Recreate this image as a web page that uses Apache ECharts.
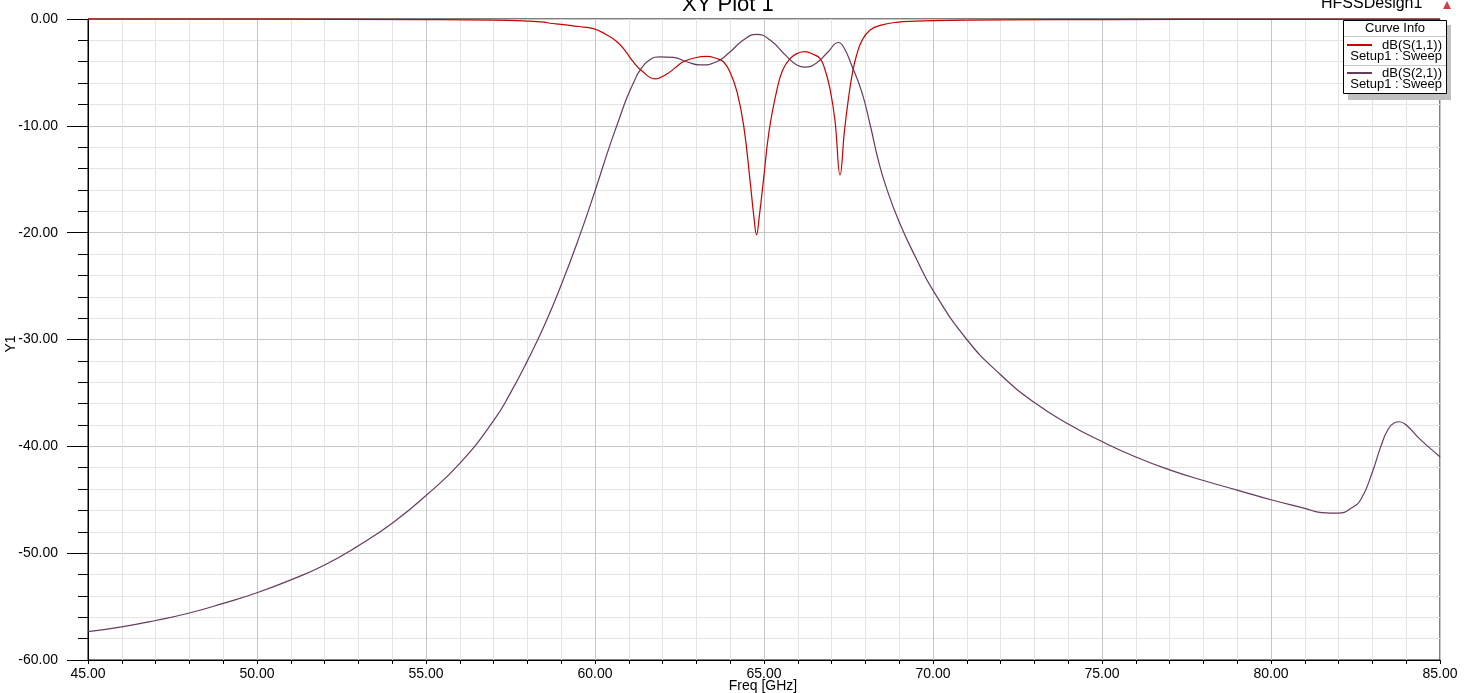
<!DOCTYPE html>
<html>
<head>
<meta charset="utf-8">
<script src="https://cdn.jsdelivr.net/npm/echarts@6/dist/echarts.min.js"></script>
<style>
html,body{margin:0;padding:0;background:#fff;}
#chart{width:1465px;height:693px;}
</style>
</head>
<body>
<div id="chart"></div>
<script>
// Tick values
const xTicks = [45, 50, 55, 60, 65, 70, 75, 80, 85];
const yTicks = [-60, -50, -40, -30, -20, -10, 0];

// dB(S(1,1)) — frequency (GHz) and value (dB)
const s11Freq = [45, 50, 55, 57, 58, 58.5, 58.67, 59, 59.5, 59.95, 60.3, 60.64, 60.9, 61.13, 61.4, 61.78, 62.1, 62.4, 62.61, 63.0, 63.3, 63.6, 63.8, 64.0, 64.2, 64.4, 64.59, 64.7, 64.78, 64.86, 64.98, 65.15, 65.37, 65.55, 65.77, 66.0, 66.21, 66.45, 66.66, 66.8, 66.95, 67.1, 67.25, 67.38, 67.5, 67.62, 67.74, 67.9, 68.14, 68.5, 68.92, 69.5, 70, 72, 75, 80, 85];
const s11dB = [-0.01, -0.02, -0.05, -0.1, -0.2, -0.3, -0.4, -0.5, -0.7, -0.9, -1.4, -2.1, -3.0, -4.0, -4.9, -5.6, -5.2, -4.5, -4.0, -3.6, -3.5, -3.7, -4.0, -5.0, -6.8, -10.0, -15.2, -18.5, -20.2, -18.5, -15.2, -10.5, -6.8, -4.8, -3.7, -3.2, -3.06, -3.3, -3.7, -4.7, -6.5, -9.5, -14.6, -10.5, -7.4, -5.0, -3.37, -2.0, -1.03, -0.55, -0.31, -0.2, -0.15, -0.08, -0.05, -0.03, -0.03];

// dB(S(2,1)) — frequency (GHz) and value (dB)
const s21Freq = [45, 46, 47, 48, 49, 50, 51, 52, 53, 54, 55, 56, 57, 57.5, 58, 58.5, 59, 59.5, 60, 60.4, 60.7, 60.94, 61.15, 61.33, 61.63, 61.92, 62.32, 62.71, 63.1, 63.6, 64.0, 64.39, 64.78, 65.18, 65.67, 65.97, 66.21, 66.56, 66.9, 67.2, 67.35, 67.59, 67.89, 68.14, 68.38, 68.6, 69.0, 69.5, 70, 71, 72, 73, 74, 75, 76, 77, 78, 79, 80, 81, 81.5, 82, 82.37, 82.67, 83.0, 83.25, 83.45, 83.65, 83.8, 84.0, 84.43, 84.97, 85];
const s21dB = [-57.35, -56.9, -56.3, -55.6, -54.7, -53.7, -52.5, -51.1, -49.3, -47.2, -44.6, -41.6, -37.6, -35.0, -32.0, -28.7, -24.9, -20.7, -16.1, -12.2, -9.5, -7.4, -5.9, -4.8, -3.8, -3.55, -3.6, -4.0, -4.3, -4.0, -3.06, -1.97, -1.43, -1.97, -3.5, -4.3, -4.5, -4.1, -3.06, -2.2, -2.6, -4.3, -6.8, -9.9, -13.2, -15.6, -19.0, -22.4, -25.4, -30.0, -33.3, -35.9, -37.9, -39.55, -41.0, -42.2, -43.2, -44.1, -45.0, -45.8, -46.2, -46.25, -45.8, -44.9, -42.4, -40.0, -38.5, -37.8, -37.7, -38.0, -39.4, -40.9, -41.0];

const seriesNames = ['dB(S(1,1))', 'dB(S(2,1))'];
const setupLabel = 'Setup1 : Sweep';
const xName = 'Freq [GHz]';
const yName = 'Y1';
const colS11 = '#c80000';
const colS21 = '#653a5f';

const FONT = 'Liberation Sans, Arial, sans-serif';
const chart = echarts.init(document.getElementById('chart'), null, {renderer: 'canvas'});

const zip = (a, b) => a.map((v, i) => [v, b[i]]);

const option = {
  backgroundColor: '#ffffff',
  animation: false,
  grid: {left: 88, right: 25, top: 19, bottom: 33, containLabel: false, outerBoundsMode: 'none',
         show: true, borderColor: '#000', borderWidth: 1, backgroundColor: 'transparent'},
  xAxis: {
    type: 'value', min: xTicks[0], max: xTicks[xTicks.length - 1], interval: 5,
    axisLine: {show: true, onZero: false, lineStyle: {color: '#000', width: 1}},
    axisTick: {show: true, inside: false, length: 4, lineStyle: {color: '#000'}},
    minorTick: {show: true, splitNumber: 5, length: 4, lineStyle: {color: '#000'}},
    axisLabel: {fontFamily: FONT, fontSize: 14, color: '#000', margin: 7, formatter: v => v.toFixed(2)},
    splitLine: {show: true, lineStyle: {color: '#c6c6c6', width: 1}},
    minorSplitLine: {show: true, lineStyle: {color: '#e4e4e4', width: 1}}
  },
  yAxis: {
    type: 'value', min: yTicks[0], max: yTicks[yTicks.length - 1], interval: 10,
    axisLine: {show: true, onZero: false, lineStyle: {color: '#000', width: 1}},
    axisTick: {show: true, inside: false, length: 21, lineStyle: {color: '#000'}},
    minorTick: {show: true, splitNumber: 5, length: 10, lineStyle: {color: '#000'}},
    axisLabel: {fontFamily: FONT, fontSize: 14, color: '#000', margin: 30, formatter: v => (v === 0 ? 0 : v).toFixed(2)},
    splitLine: {show: true, lineStyle: {color: '#c6c6c6', width: 1}},
    minorSplitLine: {show: true, lineStyle: {color: '#e4e4e4', width: 1}}
  },
  series: [
    {name: seriesNames[0], type: 'line', data: zip(s11Freq, s11dB), showSymbol: false, smooth: 0.45,
     lineStyle: {color: colS11, width: 1.2}, itemStyle: {color: colS11}, z: 3, clip: false},
    {name: seriesNames[1], type: 'line', data: zip(s21Freq, s21dB), showSymbol: false, smooth: 0.5,
     lineStyle: {color: colS21, width: 1.2}, itemStyle: {color: colS21}, z: 2}
  ],
  graphic: [
    {type: 'text', left: 682, top: -6, style: {text: 'XY Plot 1', fontFamily: FONT, fontSize: 22, fill: '#000'}},
    {type: 'text', left: 1321, top: -4, style: {text: 'HFSSDesign1', fontFamily: FONT, fontSize: 16, fill: '#000'}},
    {type: 'polygon', shape: {points: [[1447, 1], [1443, 9], [1451, 9]]}, style: {fill: '#d04040'}},
    // axis names
    {type: 'text', x: 763, y: 686, style: {text: xName, fontFamily: FONT, fontSize: 14, fill: '#000', align: 'center', verticalAlign: 'middle'}},
    {type: 'text', x: 11, y: 344, rotation: Math.PI / 2, style: {text: yName, fontFamily: FONT, fontSize: 14, fill: '#000', align: 'center', verticalAlign: 'middle'}},
    // legend shadow + box
    {type: 'rect', shape: {x: 1348, y: 25, width: 103, height: 75}, style: {fill: '#c0c0c0'}, z: 10},
    {type: 'rect', shape: {x: 1343.5, y: 20.5, width: 103, height: 73}, style: {fill: '#fff', stroke: '#000', lineWidth: 1}, z: 11},
    {type: 'text', x: 1395, y: 28.5, z: 12, style: {text: 'Curve Info', fontFamily: FONT, fontSize: 13, fill: '#000', align: 'center', verticalAlign: 'middle'}},
    {type: 'line', shape: {x1: 1344, y1: 36.5, x2: 1446, y2: 36.5}, style: {stroke: '#c8c8c8', lineWidth: 1}, z: 12},
    {type: 'line', shape: {x1: 1347, y1: 45, x2: 1372, y2: 45}, style: {stroke: colS11, lineWidth: 2}, z: 12},
    {type: 'text', x: 1442, y: 45.5, z: 12, style: {text: seriesNames[0], fontFamily: FONT, fontSize: 13, fill: '#000', align: 'right', verticalAlign: 'middle'}},
    {type: 'text', x: 1442, y: 56.5, z: 12, style: {text: setupLabel, fontFamily: FONT, fontSize: 13, fill: '#000', align: 'right', verticalAlign: 'middle'}},
    {type: 'line', shape: {x1: 1344, y1: 65.5, x2: 1446, y2: 65.5}, style: {stroke: '#c8c8c8', lineWidth: 1}, z: 12},
    {type: 'line', shape: {x1: 1347, y1: 73, x2: 1372, y2: 73}, style: {stroke: colS21, lineWidth: 2}, z: 12},
    {type: 'text', x: 1442, y: 73, z: 12, style: {text: seriesNames[1], fontFamily: FONT, fontSize: 13, fill: '#000', align: 'right', verticalAlign: 'middle'}},
    {type: 'text', x: 1442, y: 84, z: 12, style: {text: setupLabel, fontFamily: FONT, fontSize: 13, fill: '#000', align: 'right', verticalAlign: 'middle'}}
  ]
};
chart.setOption(option);
</script>
</body>
</html>
